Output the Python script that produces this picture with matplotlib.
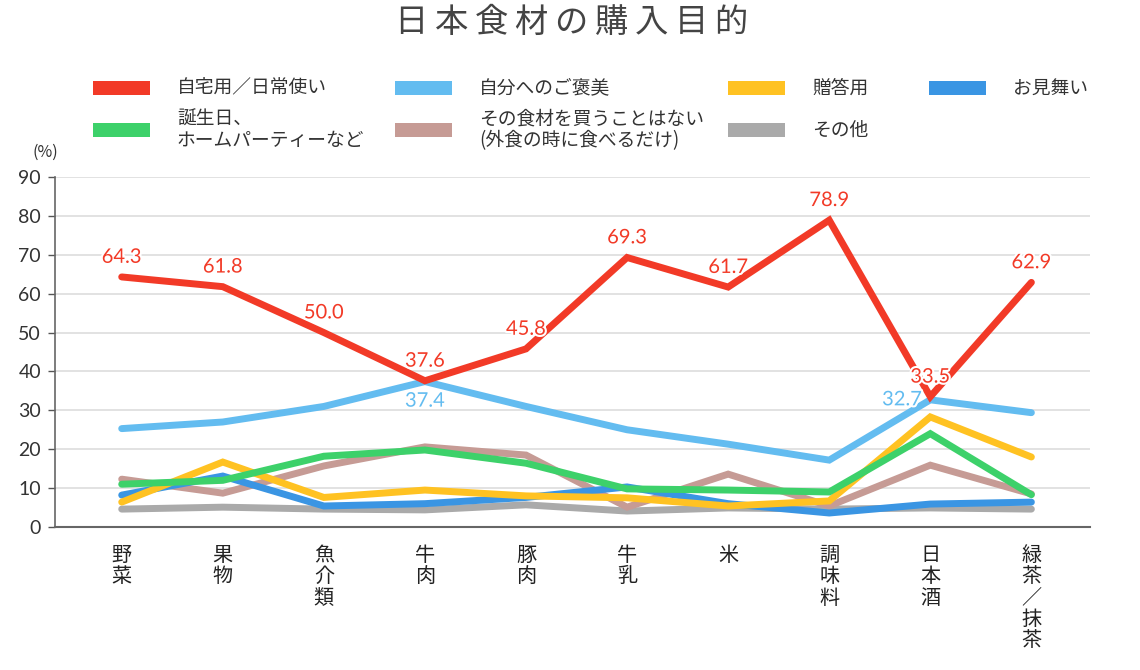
import matplotlib
matplotlib.use("Agg")
import matplotlib.pyplot as plt
import matplotlib.patheffects as pe
from matplotlib.patches import Rectangle

plt.rcParams['font.family'] = ['Noto Sans CJK JP', 'DejaVu Sans']

title = "日本食材の購入目的"
categories = ["野菜", "果物", "魚介類", "牛肉", "豚肉", "牛乳", "米", "調味料", "日本酒", "緑茶／抹茶"]
series_names = ["自宅用／日常使い", "自分へのご褒美", "贈答用", "お見舞い",
                "誕生日、\nホームパーティーなど", "その食材を買うことはない\n(外食の時に食べるだけ)", "その他"]
home_use = [64.3, 61.8, 50.0, 37.6, 45.8, 69.3, 61.7, 78.9, 33.5, 62.9]
self_reward = [25.3, 27.0, 31.0, 37.4, 31.0, 25.0, 21.3, 17.2, 32.7, 29.4]
gift = [6.4, 16.7, 7.6, 9.5, 8.0, 7.5, 5.4, 6.7, 28.3, 18.0]
sympathy = [8.2, 13.1, 5.4, 6.0, 7.6, 10.3, 6.0, 3.6, 5.9, 6.4]
party = [11.0, 12.0, 18.2, 19.8, 16.4, 9.8, 9.5, 9.0, 24.0, 8.3]
not_buy = [12.3, 8.7, 15.7, 20.6, 18.5, 5.1, 13.6, 5.4, 15.9, 8.5]
other = [4.6, 5.1, 4.6, 4.4, 5.7, 4.1, 4.9, 4.6, 4.9, 4.6]
y_ticks = [0, 10, 20, 30, 40, 50, 60, 70, 80, 90]
y_unit = "(%)"

series = [home_use, self_reward, gift, sympathy, party, not_buy, other]
colors = ["#F23A27", "#63BCF0", "#FFC222", "#3A95E3", "#3DD16A", "#C69B95", "#AAAAAA"]
draw_order = [6, 5, 3, 2, 4, 1, 0]

fig = plt.figure(figsize=(11.4, 6.7), dpi=100)
ax = fig.add_axes([55/1140, 1 - 527/670, (1090 - 55)/1140, (527 - 177)/670])

x = list(range(len(categories)))
for z, i in enumerate(draw_order):
    ax.plot(x, series[i], color=colors[i], lw=5, solid_capstyle='round',
            solid_joinstyle='miter', zorder=3 + z)

stroke = [pe.withStroke(linewidth=3, foreground='white')]
for xi, v in zip(x, home_use):
    ax.annotate(f"{v:.1f}", (xi, v), xytext=(0, 8), textcoords='offset points',
                ha='center', va='bottom', color=colors[0], fontsize=14.5,
                family=['Lato', 'DejaVu Sans'], path_effects=stroke, zorder=20)

# self-reward labels at the two peaks
ax.annotate(f"{self_reward[3]:.1f}", (3, self_reward[3]), xytext=(0, -8), textcoords='offset points',
            ha='center', va='top', color=colors[1], fontsize=14.5,
            family=['Lato', 'DejaVu Sans'], path_effects=stroke, zorder=20)
ax.annotate(f"{self_reward[8]:.1f}", (8, self_reward[8]), xytext=(-6, 0), textcoords='offset points',
            ha='right', va='center', color=colors[1], fontsize=14.5,
            family=['Lato', 'DejaVu Sans'], path_effects=stroke, zorder=20)

ax.set_xlim(-0.66, 9.58)
ax.set_ylim(0, 90)
ax.set_yticks(y_ticks)
ax.set_yticklabels([str(t) for t in y_ticks], fontsize=14, color='#333333',
                   family=['Lato', 'DejaVu Sans'])
ax.set_xticks(x)
ax.set_xticklabels(["\n".join(c) for c in categories], fontsize=14.5, color='#222222',
                   linespacing=1.02, va='top')
ax.tick_params(axis='x', length=0, pad=13)
ax.tick_params(axis='y', length=5, width=1, color='#555555', pad=5)
ax.grid(axis='y', color='#DDDDDD', lw=1.2, zorder=0)
ax.set_axisbelow(True)
for s in ['top', 'right']:
    ax.spines[s].set_visible(False)
ax.spines['left'].set_color('#666666')
ax.spines['left'].set_linewidth(1.2)
ax.spines['bottom'].set_color('#666666')
ax.spines['bottom'].set_linewidth(1.5)

fig.text(45/1140, 1 - 152/670, y_unit, ha='center', va='center', fontsize=11.5, color='#333333')

fig.text(572/1140, 1 - 22/670, "\u2009".join(title), ha='center', va='center', fontsize=24,
         color='#444444', family=['Noto Sans CJK JP', 'DejaVu Sans'])

# legend
col_x = [93, 395, 728, 929]
row_y = [88, 130]
for k, name in enumerate(series_names):
    r, c = divmod(k, 4)
    hx, hy = col_x[c], row_y[r]
    fig.patches.append(Rectangle((hx/1140, 1 - (hy + 7)/670), 57/1140, 14/670,
                                 transform=fig.transFigure, facecolor=colors[k],
                                 edgecolor='none', figure=fig))
    fig.text((hx + 84)/1140, 1 - hy/670, name, ha='left', va='center', fontsize=13.5,
             color='#333333', linespacing=1.0)

fig.savefig("out.png", dpi=100, facecolor='white')
